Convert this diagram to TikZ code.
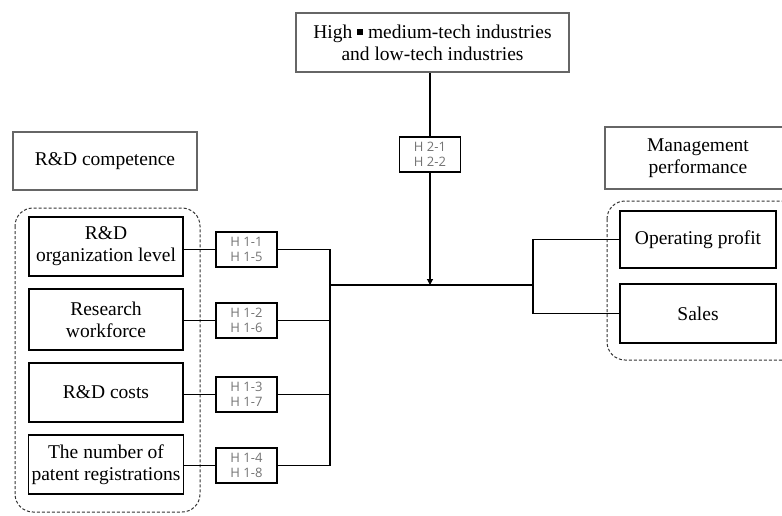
\documentclass[tikz,border=0pt]{standalone}
\usepackage{fontspec}
\setmainfont{Liberation Serif}
\newfontfamily\hypfont{Open Sans}
\usetikzlibrary{arrows.meta}
\tikzset{
    head/.style={draw=gray!80!black, line width=2pt, align=center,
        font=\fontsize{19.5}{22}\selectfont},
    var/.style={draw, line width=1.2pt, align=center, minimum width=154,
        font=\fontsize{19.5}{22}\selectfont},
    hyp/.style={draw, line width=1.2pt, align=center, minimum width=61, minimum height=35,
        inner sep=0pt, text=gray!90!black, font=\hypfont\fontsize{13}{15.5}\selectfont},
    grp/.style={draw=gray!40!black, dashed, dash pattern=on 3pt off 2pt, line width=1pt,
        rounded corners=18pt},
    link/.style={line width=1.1pt}
}
\begin{document}
\begin{tikzpicture}[x=1pt,y=-1pt]
    \useasboundingbox (0,0) rectangle (782,515);
    \clip (0,0) rectangle (782,515);
    % headings
    \node[head, minimum width=273, minimum height=59] (ind) at (432.5,42.5)
        {High \raisebox{0.18em}{\rule{0.3em}{0.3em}} medium-tech industries\\and low-tech industries};
    \node[head, minimum width=184, minimum height=58] (rdc) at (105,161) {R\&D competence};
    \node[head, minimum width=186, minimum height=62] (mgmt) at (698,158)
        {Management\\performance};
    % dashed groups
    \draw[grp] (15,208) rectangle (200,512);
    \draw[grp] (607,201) rectangle (800,360);
    % R&D variables
    \node[var, minimum height=59] (org) at (106,246.5) {R\&D\\organization level};
    \node[var, minimum height=61] (work) at (106,319.5) {Research\\workforce};
    \node[var, minimum height=59] (cost) at (106,392.5) {R\&D costs};
    \node[var, minimum height=59] (pat) at (106,464.5) {The number of\\patent registrations};
    % hypotheses
    \node[hyp] (h11) at (246.5,249.5) {H 1-1\\H 1-5};
    \node[hyp] (h12) at (246.5,320.5) {H 1-2\\H 1-6};
    \node[hyp] (h13) at (246.5,394.5) {H 1-3\\H 1-7};
    \node[hyp] (h14) at (246.5,465.5) {H 1-4\\H 1-8};
    \node[hyp] (h2) at (430,154.5) {H 2-1\\H 2-2};
    % performance
    \node[var, minimum width=156, minimum height=57] (op) at (698,239.5) {Operating profit};
    \node[var, minimum width=156, minimum height=59] (sales) at (698,313.5) {Sales};
    \coordinate (jl) at (330,285);
    \coordinate (jr) at (533,285);
    % connectors
    \draw[link] (org.east |- h11.west) -- (h11.west);
    \draw[link] (work.east |- h12.west) -- (h12.west);
    \draw[link] (cost.east |- h13.west) -- (h13.west);
    \draw[link] (pat.east |- h14.west) -- (h14.west);
    \draw[link] (h11.east) -| (jl);
    \draw[link] (h12.east) -| (jl);
    \draw[link] (h13.east) -| (jl);
    \draw[link] (h14.east) -| (jl);
    \draw[link] (jl) -- (jr);
    \draw[link] (op.west) -| (jr);
    \draw[link] (sales.west) -| (jr);
    \draw[link] (ind.south -| h2.north) -- (h2.north);
    \draw[link, -{Triangle[length=6pt,width=6pt]}] (h2.south) -- (h2.south |- jl);
\end{tikzpicture}
\end{document}
